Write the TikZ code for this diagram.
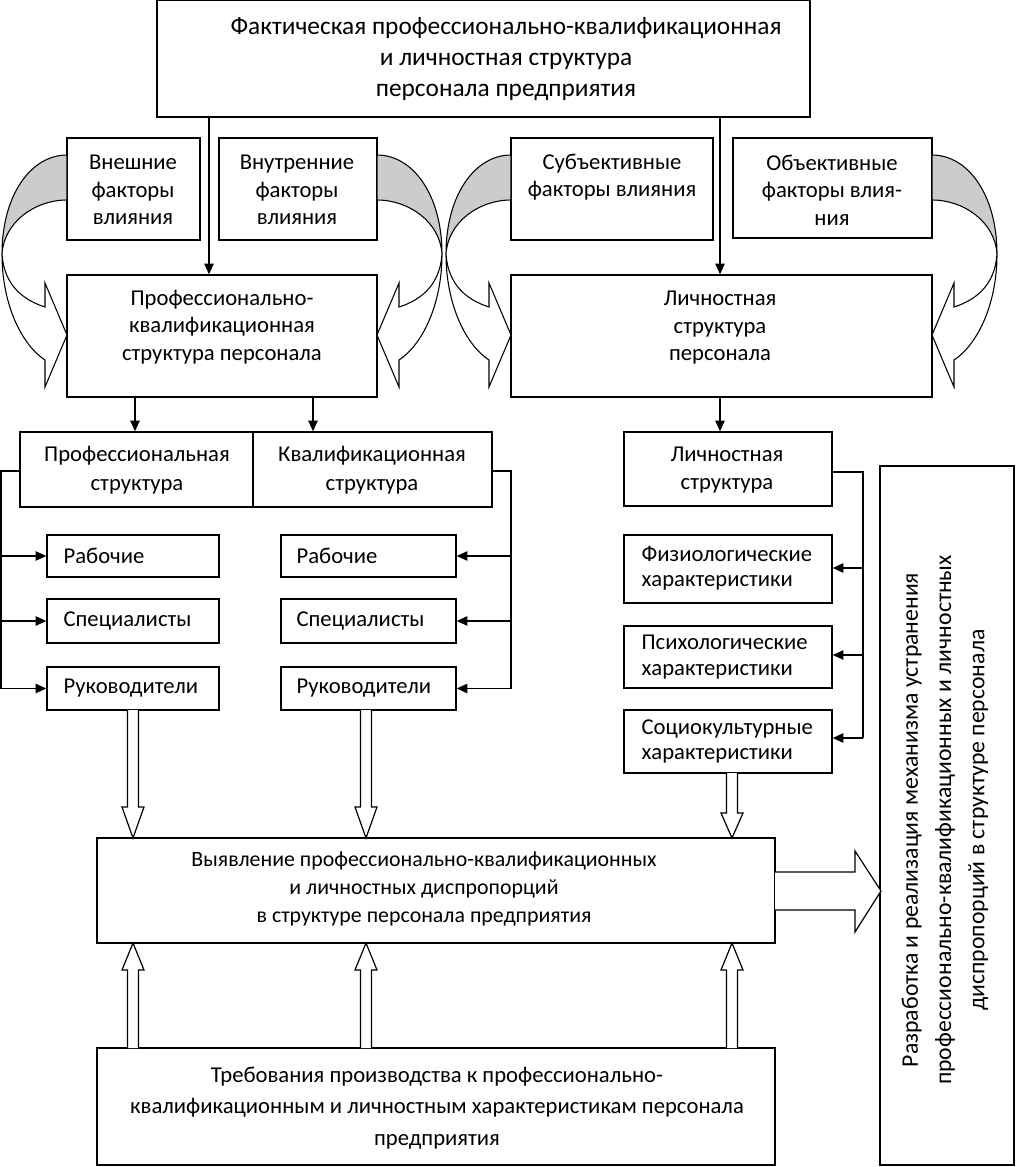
\documentclass[tikz,border=0pt]{standalone}
\usepackage{fontspec}
\setmainfont{Carlito}
\usetikzlibrary{arrows.meta,fit}
\newcommand\hollowarrow[4]{\draw[hol] ({#1-5.5},#2) -- ({#1-5.5},#3) -- ({#1-11},#3) -- (#1,#4) -- ({#1+11},#3) -- ({#1+5.5},#3) -- ({#1+5.5},#2);}
\begin{document}
\begin{tikzpicture}[x=0.75pt,y=-0.75pt,
  font=\fontsize{17}{20.6}\selectfont,
  box/.style={draw, line width=1pt, inner sep=0pt},
  txt/.style={align=center, inner sep=0pt},
  ltxt/.style={align=left, inner sep=0pt, anchor=west},
  arr/.style={line width=1pt, -{Triangle[length=8pt,width=7pt]}},
  ln/.style={line width=1pt},
  hol/.style={draw, line width=0.9pt, fill=white, line join=miter},
  band/.style={draw, line width=0.8pt, fill=gray!40},
  head/.style={draw, line width=0.8pt, fill=white}]
\useasboundingbox (0,0) rectangle (1015,1167);
% top box
\node[box, fit={(157,0) (810,117)}] (top) {};
\node[txt, font=\fontsize{19}{23}\selectfont] (toptxt) at (506,59) {Фактическая профессионально-квалификационная\\и личностная структура\\персонала предприятия};
% factor boxes
\node[box, fit={(67,138) (200,240)}] (vn) {};
\node[txt] (vntxt) at (133,190) {Внешние\\факторы\\влияния};
\node[box, fit={(219,138) (377,240)}] (vt) {};
\node[txt] (vttxt) at (297,190) {Внутренние\\факторы\\влияния};
\node[box, fit={(511,138) (713,240)}] (sb) {};
\node[txt] (sbtxt) at (612,177) {Субъективные\\факторы влияния};
\node[box, fit={(733,138) (932,238)}] (ob) {};
\node[txt] (obtxt) at (832,190) {Объективные\\факторы влия-\\ния};
% structure boxes
\node[box, fit={(67,275) (377,397)}] (pk) {};
\node[txt] (pktxt) at (222,327) {Профессионально-\\квалификационная\\структура персонала};
\node[box, fit={(511,275) (932,397)}] (ls) {};
\node[txt] (lstxt) at (720,328) {Личностная\\структура\\персонала};
% curved arrows
\foreach \bx/\s in {67/-1, 377/1, 511/-1, 932/1}{
  \begin{scope}[shift={(\bx,0)}, xscale=\s]
    \path[band] (0,155) .. controls (36,155) and (65,195) .. (65,254)
       .. controls (63,222) and (32,200) .. (0,200) -- cycle;
    \path[head] (65,254) .. controls (65,305) and (45,345) .. (22,360)
       -- (22,387) -- (0,335) -- (22,283) -- (22,307)
       .. controls (44,300) and (63,285) .. (65,254) -- cycle;
  \end{scope}
}
% arrows from top
\coordinate (xa) at (209,0);
\coordinate (xb) at (720,0);
\draw[arr] (xa |- top.south) -- (xa |- pk.north);
\draw[arr] (xb |- top.south) -- (xb |- ls.north);
% prof / qual structure
\node[box, fit={(20,432) (253,507)}] (ps) {};
\node[txt, font=\fontsize{17}{21.8}\selectfont] (pstxt) at (137,470.5) {Профессиональная\\структура};
\node[box, fit={(253,432) (492,507)}] (ks) {};
\node[txt, font=\fontsize{17}{21.8}\selectfont] (kstxt) at (372,470.5) {Квалификационная\\структура};
\coordinate (xc) at (135,0);
\coordinate (xd) at (313,0);
\draw[arr] (xc |- pk.south) -- (xc |- ps.north);
\draw[arr] (xd |- pk.south) -- (xd |- ks.north);
% sub boxes
\node[box, fit={(47,535) (219,577)}] (r1) {};
\node[box, fit={(47,599) (219,643)}] (r2) {};
\node[box, fit={(47,667) (219,710)}] (r3) {};
\node[box, fit={(281,535) (456,577)}] (q1) {};
\node[box, fit={(281,599) (456,643)}] (q2) {};
\node[box, fit={(281,667) (456,710)}] (q3) {};
\node[ltxt] (r1t) at ([xshift=12.75pt]r1.west) {Рабочие};
\node[ltxt] (r2t) at ([xshift=12.75pt]r2.west) {Специалисты};
\node[ltxt] (r3t) at ([xshift=12.75pt]r3.west) {Руководители};
\node[ltxt] (q1t) at ([xshift=12pt]q1.west) {Рабочие};
\node[ltxt] (q2t) at ([xshift=12pt]q2.west) {Специалисты};
\node[ltxt] (q3t) at ([xshift=12pt]q3.west) {Руководители};
\coordinate (lb) at (1,471);
\coordinate (rb) at (511,471);
\draw[ln] (ps.west |- lb) -- (lb) -- (lb |- r3.west);
\draw[arr] (lb |- r1.west) -- (r1.west);
\draw[arr] (lb |- r2.west) -- (r2.west);
\draw[arr] (lb |- r3.west) -- (r3.west);
\draw[ln] (ks.east |- rb) -- (rb) -- (rb |- q3.east);
\draw[arr] (rb |- q1.east) -- (q1.east);
\draw[arr] (rb |- q2.east) -- (q2.east);
\draw[arr] (rb |- q3.east) -- (q3.east);
% personal structure
\node[box, fit={(624,432) (832,506)}] (lst) {};
\node[txt, font=\fontsize{17}{21}\selectfont] (lsttxt) at (727,470) {Личностная\\структура};
\draw[arr] (xb |- ls.south) -- (xb |- lst.north);
\node[box, fit={(624,535) (832,603)}] (f1) {};
\node[box, fit={(624,626) (832,688)}] (f2) {};
\node[box, fit={(624,710) (832,773)}] (f3) {};
\node[ltxt, font=\fontsize{17}{19}\selectfont] (f1t) at ([xshift=13.5pt,yshift=0.75pt]f1.west) {Физиологические\\характеристики};
\node[ltxt, font=\fontsize{17}{19}\selectfont] (f2t) at ([xshift=13.5pt]f2.west) {Психологические\\характеристики};
\node[ltxt, font=\fontsize{17}{19}\selectfont] (f3t) at ([xshift=13.5pt]f3.west) {Социокультурные\\характеристики};
\coordinate (pb) at (863,472);
\draw[ln] (lst.east |- pb) -- (pb) -- (pb |- 0,738);
\draw[arr] (pb |- 0,568) -- (f1.east |- 0,568);
\draw[arr] (pb |- 0,655) -- (f2.east |- 0,655);
\draw[arr] (pb |- 0,738) -- (f3.east |- 0,738);
% detection box
\node[box, fit={(97,838) (775,943)}] (vy) {};
\node[txt, font=\fontsize{16.4}{21}\selectfont] (vytxt) at (424,889) {Выявление профессионально-квалификационных\\и личностных диспропорций\\в структуре персонала предприятия};
% requirements
\node[box, fit={(97,1048) (775,1165)}] (tr) {};
\node[txt, font=\fontsize{17}{23.5}\selectfont] (trtxt) at (437,1108) {Требования производства к профессионально-\\квалификационным и личностным характеристикам персонала\\предприятия};
% right box
\node[box, fit={(880,466) (1014,1165)}] (rbx) {};
\node[txt, rotate=90, font=\fontsize{17.8}{25}\selectfont] (rbtxt) at (945,820) {Разработка и реализация механизма устранения\\профессионально-квалификационных и личностных\\диспропорций в структуре персонала};
% hollow arrows down
\hollowarrow{133}{710}{807}{838}
\hollowarrow{366}{710}{807}{838}
\hollowarrow{732}{773}{813}{838}
% hollow arrows up
\hollowarrow{133}{1048}{970}{943}
\hollowarrow{366}{1048}{970}{943}
\hollowarrow{732}{1048}{970}{943}
% big right arrow
\draw[hol] (775,872) -- (855,872) -- (855,851) -- (881,891) -- (855,932) -- (855,910) -- (775,910);
\end{tikzpicture}
\end{document}
